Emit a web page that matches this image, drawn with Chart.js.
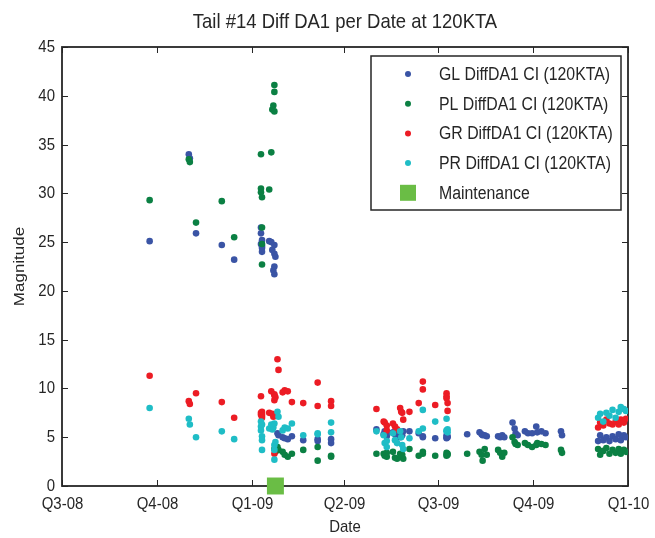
<!DOCTYPE html>
<html>
<head>
<meta charset="utf-8">
<script src="https://cdn.jsdelivr.net/npm/chart.js@4.4.1/dist/chart.umd.min.js"></script>
<style>
  html, body { margin: 0; padding: 0; background: #fff; }
  #wrap { width: 655px; height: 538px; }
</style>
</head>
<body>
<div id="wrap"><canvas id="chart"></canvas></div>
<script>
  // Flight dates and the four measurements taken on each one
  const dates = [
    '2008-09-24', '2008-11-01', '2008-11-02', '2008-11-08', '2008-12-03', '2008-12-15',
    '2009-01-10', '2009-01-10', '2009-01-10', '2009-01-11', '2009-01-11', '2009-01-11', '2009-01-11',
    '2009-01-18', '2009-01-20', '2009-01-21', '2009-01-22', '2009-01-23', '2009-01-23', '2009-01-23',
    '2009-01-23', '2009-01-24', '2009-01-26', '2009-01-27', '2009-01-31', '2009-02-02', '2009-02-05',
    '2009-02-09', '2009-02-20', '2009-03-06', '2009-03-06', '2009-03-19', '2009-03-19',
    '2009-05-02', '2009-05-09', '2009-05-10', '2009-05-12', '2009-05-12', '2009-05-18', '2009-05-20',
    '2009-05-22', '2009-05-25', '2009-05-26', '2009-05-27', '2009-05-28', '2009-06-03', '2009-06-12',
    '2009-06-16', '2009-06-16', '2009-06-28', '2009-07-09', '2009-07-09', '2009-07-09', '2009-07-10',
    '2009-07-10', '2009-07-29', '2009-08-10', '2009-08-12', '2009-08-13', '2009-08-15', '2009-08-17',
    '2009-08-28', '2009-08-30', '2009-09-01', '2009-09-03', '2009-09-11', '2009-09-13', '2009-09-14',
    '2009-09-16', '2009-09-23', '2009-09-26', '2009-09-30', '2009-10-04', '2009-10-05', '2009-10-09',
    '2009-10-13', '2009-10-28', '2009-10-29', '2009-12-03', '2009-12-05', '2009-12-08', '2009-12-11',
    '2009-12-14', '2009-12-17', '2009-12-20', '2009-12-23', '2009-12-25', '2009-12-28', '2009-12-30'
  ];
  const gl = [
    25.1, 34.0, 33.6, 25.9, 24.7, 23.2,
    26.5, 25.9, 24.8, 24.4, 24.0, 24.6, 25.2,
    25.1, 25.0, 24.2, 22.1, 24.7, 23.8, 22.5,
    21.7, 23.5, 5.4, 5.2, 5.0, 4.9, 4.8,
    5.1, 4.7, 4.8, 4.6, 4.8, 4.4,
    5.8, 5.3, 5.6, 5.1, 5.4, 5.5, 5.3,
    5.4, 5.0, 5.5, 5.2, 5.6, 5.6, 5.4,
    5.1, 5.0, 4.9, 5.2, 4.9, 5.0, 5.1,
    5.0, 5.3, 5.5, 5.3, 5.2, 5.2, 5.1,
    5.1, 5.0, 5.2, 5.0, 6.5, 5.9, 5.4,
    5.2, 5.6, 5.4, 5.4, 6.1, 5.5, 5.6,
    5.4, 5.6, 5.2, 4.6, 5.2, 4.7, 5.0,
    4.6, 5.1, 4.8, 5.3, 4.7, 5.2, 5.0
  ];
  const pl = [
    29.3, 33.5, 33.2, 27.0, 29.2, 25.5,
    34.0, 30.5, 30.1, 29.6, 26.5, 24.8, 22.7,
    30.4, 34.2, 38.6, 39.0, 41.1, 40.4, 38.4,
    3.8, 3.5, 4.0, 3.7, 3.5, 3.2, 3.0,
    3.3, 3.7, 4.0, 2.6, 3.1, 3.0,
    3.3, 3.3, 3.1, 3.0, 3.4, 3.5, 2.9,
    2.8, 3.3, 3.0, 3.2, 2.8, 3.8, 3.1,
    3.5, 3.3, 3.1, 3.4, 3.1, 3.2, 3.3,
    3.2, 3.3, 3.5, 3.2, 2.6, 3.8, 3.2,
    3.7, 3.4, 3.0, 3.4, 5.0, 4.5, 4.3,
    4.2, 4.4, 4.2, 4.0, 4.2, 4.4, 4.3,
    4.2, 3.7, 3.4, 3.8, 3.2, 3.6, 3.9,
    3.3, 3.7, 3.4, 3.8, 3.3, 3.7, 3.5
  ];
  const gr = [
    11.3, 8.7, 8.4, 9.5, 8.6, 7.0,
    9.2, 7.5, 7.3, 7.6, 7.4, 7.2, 7.0,
    7.5, 9.7, 7.4, 7.1, 3.3, 9.3, 8.8,
    9.4, 9.1, 13.0, 11.9, 9.6, 9.8, 9.7,
    8.6, 8.5, 10.6, 8.2, 8.7, 8.2,
    7.9, 6.6, 6.5, 6.2, 5.7, 6.4, 6.1,
    5.8, 8.0, 7.6, 7.5, 6.8, 7.6, 8.5,
    10.7, 9.9, 8.3, 9.5, 9.2, 9.0, 8.5,
    7.7, null, null, null, null, null, null,
    null, null, null, null, null, null, null,
    null, null, null, null, null, null, null,
    null, null, null, 6.0, 6.5, 6.2, 6.8,
    6.4, 6.3, 6.6, 6.3, 6.8, 6.5, 6.9
  ];
  const pr = [
    8.0, 6.9, 6.3, 5.0, 5.6, 4.8,
    6.6, 6.1, 5.7, 5.1, 4.7, 3.7, 6.3,
    5.9, 6.3, 5.8, 6.0, 3.7, 2.7, 4.2,
    6.4, 4.5, 7.6, 7.1, 5.7, 6.0, 5.9,
    6.4, 5.2, 5.4, 5.3, 6.5, 5.5,
    5.6, 5.2, 4.4, 4.0, 4.6, 5.4, 4.7,
    4.4, 5.6, 5.0, 4.2, 3.8, 4.9, 5.6,
    7.8, 5.9, 6.6, 6.9, 5.6, 5.7, 5.8,
    5.5, null, null, null, null, null, null,
    null, null, null, null, null, null, null,
    null, null, null, null, null, null, null,
    null, null, null, 7.0, 7.4, 6.6, 7.5,
    7.2, 7.8, 7.0, 7.6, 8.1, 7.9, 7.7
  ];
  const maintenanceDates = ['2009-01-24'];

  const seriesLabels = ['GL DiffDA1 CI (120KTA)', 'PL DiffDA1 CI (120KTA)', 'GR DiffDA1 CI (120KTA)', 'PR DiffDA1 CI (120KTA)'];
  const seriesColors = ['#3a54a5', '#0b8043', '#ec1c24', '#1fbdc6'];
  const quarterDates = ['2008-07-01', '2008-10-01', '2009-01-01', '2009-04-01', '2009-07-01', '2009-10-01', '2010-01-01'];
  const quarterLabels = ['Q3-08', 'Q4-08', 'Q1-09', 'Q2-09', 'Q3-09', 'Q4-09', 'Q1-10'];
  const yTicks = [0, 5, 10, 15, 20, 25, 30, 35, 40, 45];

  const FONT = "'Liberation Sans', Arial, sans-serif";
  const TEXT = '#262626';
  const SQUISH = 0.88; // the source figure's lettering is horizontally condensed
  const origin = Date.parse(quarterDates[0]);
  const dayNum = s => (Date.parse(s) - origin) / 86400000;
  const quarterDays = quarterDates.map(dayNum);

  function points(values) {
    return dates.map((d, i) => ({ x: dayNum(d), y: values[i] })).filter(p => p.y !== null);
  }

  function narrowText(ctx, text, x, y, size, align, rotate) {
    ctx.save();
    ctx.translate(x, y);
    if (rotate) {
      ctx.rotate(-Math.PI / 2);
      ctx.scale(1, SQUISH);
    } else {
      ctx.scale(SQUISH, 1);
    }
    ctx.font = size + 'px ' + FONT;
    ctx.textAlign = align;
    ctx.textBaseline = 'middle';
    ctx.fillStyle = TEXT;
    ctx.fillText(text, 0, 0);
    ctx.restore();
  }

  const series = [gl, pl, gr, pr].map((vals, i) => ({
    label: seriesLabels[i],
    data: points(vals),
    backgroundColor: seriesColors[i],
    borderWidth: 0,
    pointRadius: 3.3,
    order: 4 - i
  }));
  series.push({
    label: 'Maintenance',
    data: maintenanceDates.map(d => ({ x: dayNum(d), y: 0 })),
    backgroundColor: '#6abd45',
    borderWidth: 0,
    pointStyle: 'rect',
    pointRadius: 12,
    clip: false,
    order: 0
  });

  // Box, inward ticks, labels, title and the boxed legend, drawn the MATLAB way
  const framePlugin = {
    id: 'frame',
    beforeDatasetsDraw(chart) {
      const { ctx, chartArea: a, scales: { x, y } } = chart;
      ctx.save();
      ctx.strokeStyle = TEXT;
      ctx.lineWidth = 1;
      ctx.beginPath();
      quarterDays.forEach((v, i) => {
        const px = Math.round(x.getPixelForValue(v)) + 0.5;
        ctx.moveTo(px, a.bottom); ctx.lineTo(px, a.bottom - 6);
        ctx.moveTo(px, a.top); ctx.lineTo(px, a.top + 6);
        narrowText(ctx, quarterLabels[i], px, 504, 17, 'center');
      });
      yTicks.forEach(v => {
        const py = Math.round(y.getPixelForValue(v)) + 0.5;
        ctx.moveTo(a.left, py); ctx.lineTo(a.left + 6, py);
        ctx.moveTo(a.right, py); ctx.lineTo(a.right - 6, py);
        narrowText(ctx, String(v), a.left - 7, py, 17, 'right');
      });
      ctx.stroke();
      ctx.lineWidth = 1.8;
      ctx.strokeRect(a.left, a.top, a.right - a.left, a.bottom - a.top);
      narrowText(ctx, 'Date', (a.left + a.right) / 2, 527, 17, 'center');
      narrowText(ctx, 'Magnitude', 20, (a.top + a.bottom) / 2, 17, 'center', true);
      ctx.restore();
    },
    afterDraw(chart) {
      const { ctx, chartArea: a } = chart;
      ctx.save();
      narrowText(ctx, 'Tail #14 Diff DA1 per Date at 120KTA', (a.left + a.right) / 2, 22, 21, 'center');

      // legend
      const box = { left: 371, top: 56, width: 250, height: 154 };
      ctx.fillStyle = '#fff';
      ctx.fillRect(box.left, box.top, box.width, box.height);
      ctx.strokeStyle = TEXT;
      ctx.lineWidth = 1.5;
      ctx.strokeRect(box.left, box.top, box.width, box.height);
      chart.data.datasets.forEach((ds, i) => {
        const cy = 74 + i * 29.7;
        ctx.fillStyle = ds.backgroundColor;
        if (ds.pointStyle === 'rect') {
          ctx.fillRect(400, cy - 8, 16, 16);
        } else {
          ctx.beginPath();
          ctx.arc(408, cy, 3, 0, Math.PI * 2);
          ctx.fill();
        }
        narrowText(ctx, ds.label, 439, cy + 1, 18, 'left');
      });
      ctx.restore();
    }
  };

  new Chart(document.getElementById('chart'), {
    type: 'scatter',
    data: { datasets: series },
    options: {
      responsive: true,
      maintainAspectRatio: false,
      animation: false,
      layout: { padding: { top: 47, right: 27, bottom: 0, left: 0 } },
      plugins: {
        legend: { display: false },
        title: { display: false },
        tooltip: { enabled: false }
      },
      scales: {
        x: {
          type: 'linear',
          min: quarterDays[0],
          max: quarterDays[quarterDays.length - 1],
          afterFit: s => { s.height = 52; },
          grid: { display: false, drawTicks: false },
          border: { display: false },
          ticks: { display: false }
        },
        y: {
          min: 0,
          max: 45,
          afterFit: s => { s.width = 62; },
          grid: { display: false, drawTicks: false },
          border: { display: false },
          ticks: { display: false }
        }
      }
    },
    plugins: [framePlugin]
  });
</script>
</body>
</html>
